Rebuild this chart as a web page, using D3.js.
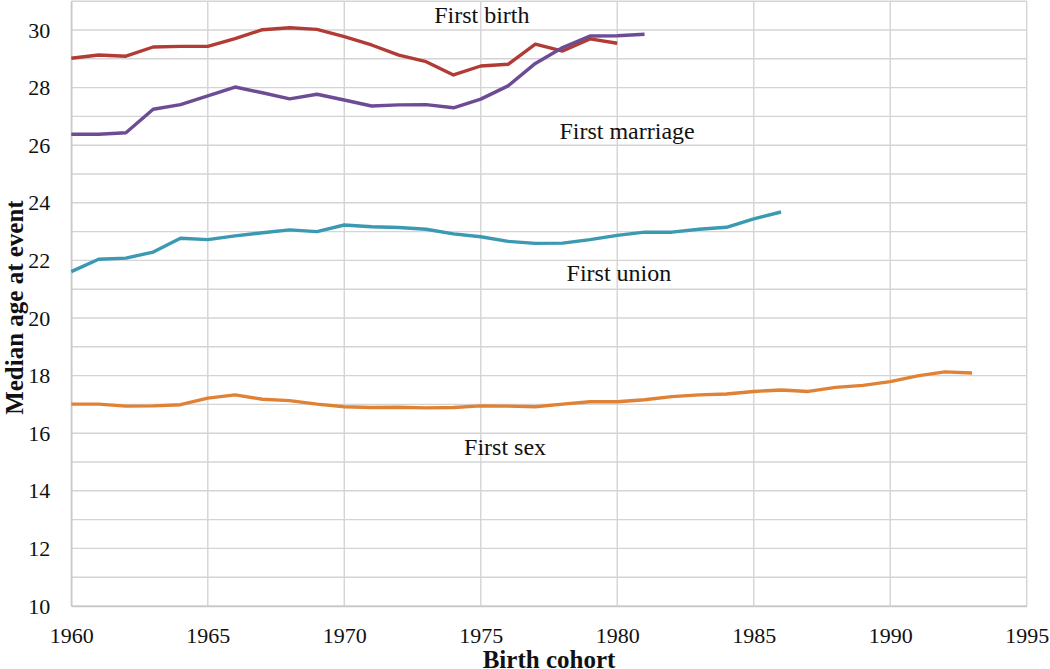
<!DOCTYPE html>
<html><head><meta charset="utf-8">
<script src="https://cdn.jsdelivr.net/npm/d3@7/dist/d3.min.js"></script>
<style>
body{margin:0;background:#fff;}
svg{display:block;font-family:"Liberation Serif","DejaVu Serif",serif;}
</style></head>
<body><svg id="chart" width="1050" height="669"></svg>
<script>
const birthYears = d3.range(1960, 1981);
const firstBirth = [29.02,29.13,29.09,29.41,29.43,29.43,29.70,30.01,30.08,30.02,29.77,29.48,29.13,28.90,28.44,28.75,28.81,29.51,29.27,29.69,29.54];
const marriageYears = d3.range(1960, 1982);
const firstMarriage = [26.38,26.38,26.43,27.25,27.41,27.71,28.02,27.82,27.61,27.77,27.57,27.36,27.40,27.41,27.30,27.60,28.06,28.84,29.39,29.79,29.80,29.85];
const unionYears = d3.range(1960, 1987);
const firstUnion = [21.61,22.04,22.08,22.29,22.77,22.72,22.85,22.96,23.06,23.00,23.23,23.17,23.14,23.08,22.92,22.82,22.66,22.59,22.60,22.72,22.87,22.98,22.98,23.08,23.15,23.44,23.68];
const sexYears = d3.range(1960, 1994);
const firstSex = [17.01,17.01,16.94,16.95,16.99,17.22,17.33,17.18,17.13,17.01,16.92,16.89,16.90,16.88,16.89,16.95,16.94,16.92,17.01,17.09,17.09,17.16,17.27,17.33,17.36,17.45,17.50,17.45,17.59,17.66,17.79,17.99,18.13,18.09];
const xTicks = [1960,1965,1970,1975,1980,1985,1990,1995];
const yTicks = [10,12,14,16,18,20,22,24,26,28,30];
const yGrid = d3.range(10, 32);

const series = [
  {name:"First birth", years:birthYears, values:firstBirth, color:"#b23b36", lx:1975.04, ly:30.24},
  {name:"First marriage", years:marriageYears, values:firstMarriage, color:"#6d4c95", lx:1980.36, ly:26.2},
  {name:"First union", years:unionYears, values:firstUnion, color:"#3b99b1", lx:1980.06, ly:21.28},
  {name:"First sex", years:sexYears, values:firstSex, color:"#e08236", lx:1975.89, ly:15.24}
];

const svg = d3.select("#chart");
const x = d3.scaleLinear().domain([1960,1995]).range([71.3,1026.7]);
const y = d3.scaleLinear().domain([10,31]).range([606,1.2]);

// gridlines
svg.append("g").selectAll("line").data(yGrid).join("line")
  .attr("x1", x(1960)).attr("x2", x(1995))
  .attr("y1", d=>y(d)).attr("y2", d=>y(d))
  .attr("stroke", "#d4d4d4").attr("stroke-width", 1.4);
svg.append("g").selectAll("line").data(xTicks).join("line")
  .attr("x1", d=>x(d)).attr("x2", d=>x(d))
  .attr("y1", y(10)).attr("y2", y(31))
  .attr("stroke", "#d4d4d4").attr("stroke-width", 1.4);

// axes
const xAxis = svg.append("g").attr("transform", `translate(0,${y(10)})`)
  .call(d3.axisBottom(x).tickValues(xTicks).tickFormat(d3.format("d")).tickSize(0).tickPadding(21));
xAxis.attr("font-family", null);
xAxis.select(".domain").attr("stroke", "#c8c8c8").attr("stroke-width", 1.4);
xAxis.selectAll("text").attr("font-size", 22).attr("fill", "#111");

const yAxis = svg.append("g").attr("transform", `translate(${x(1960)},0)`)
  .call(d3.axisLeft(y).tickValues(yTicks).tickSize(0).tickPadding(21));
yAxis.attr("font-family", null);
yAxis.select(".domain").attr("stroke", "#c8c8c8").attr("stroke-width", 1.4);
yAxis.selectAll("text").attr("font-size", 22).attr("fill", "#111");

// lines
const line = d3.line().x(d=>x(d[0])).y(d=>y(d[1]));
series.forEach(s => {
  svg.append("path")
    .datum(s.years.map((yr,i)=>[yr, s.values[i]]))
    .attr("d", line).attr("fill","none")
    .attr("stroke", s.color).attr("stroke-width", 3.4)
    .attr("stroke-linejoin","round").attr("stroke-linecap","butt");
  svg.append("text").attr("x", x(s.lx)).attr("y", y(s.ly))
    .attr("text-anchor","middle").attr("font-size", 24).attr("fill","#111")
    .text(s.name);
});

// axis titles
svg.append("text").attr("x", (x(1960)+x(1995))/2).attr("y", 668)
  .attr("text-anchor","middle").attr("font-size", 25).attr("font-weight","bold").attr("fill","#111")
  .text("Birth cohort");
svg.append("text").attr("transform", `translate(23,${(y(10)+y(31))/2 + 4}) rotate(-90)`)
  .attr("text-anchor","middle").attr("font-size", 25).attr("font-weight","bold").attr("fill","#111")
  .text("Median age at event");
</script></body></html>
